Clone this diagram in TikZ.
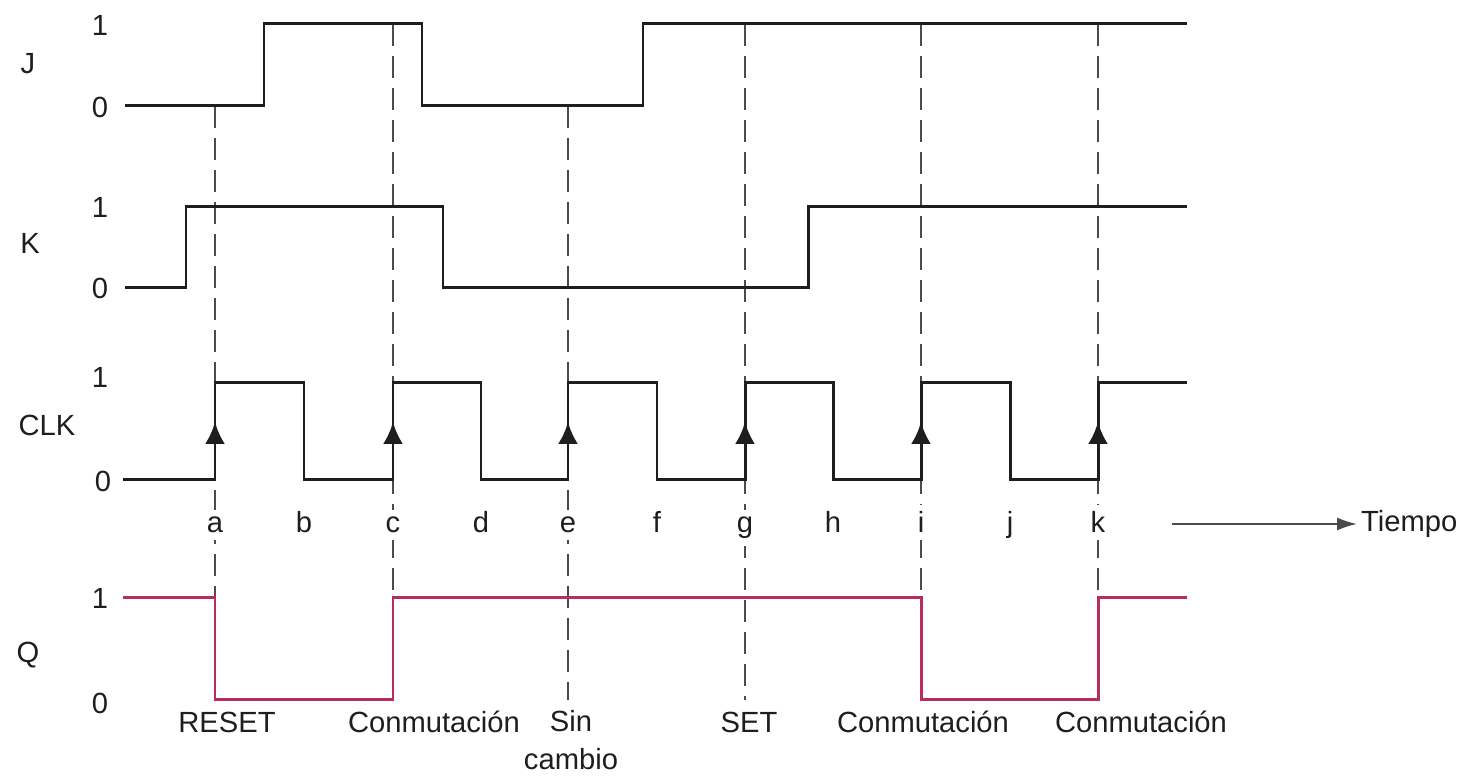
\documentclass[tikz,border=0pt]{standalone}
\usepackage{fontspec}
\setmainfont{Liberation Sans}
\usetikzlibrary{arrows.meta}
\definecolor{qred}{RGB}{185,45,90}
\definecolor{guide}{RGB}{75,75,75}
\definecolor{ink}{RGB}{30,30,30}
\begin{document}
\begin{tikzpicture}[x=0.1mm,y=-0.1mm,
  lbl/.style={font=\fontsize{8.3}{10}\selectfont, text=ink, inner sep=1pt},
  wave/.style={line width=0.85pt, draw=ink, line join=miter},
  qwave/.style={line width=0.85pt, draw=qred, line join=miter},
  guideline/.style={draw=guide, line width=0.5pt, dash pattern=on 2.2mm off 1.0mm},
  edgearrow/.style={draw=ink, line width=0.85pt, -{Latex[length=2.2mm,width=2.0mm]}},
  timearrow/.style={draw=ink!80, line width=0.5pt, -{Latex[length=2.0mm,width=1.3mm]}}]
\useasboundingbox (0,0) rectangle (1479,777);

% vertical guides at the active clock edges
\foreach \n/\x/\top in {a/215/106, c/393/24, e/568/106, g/745/24, i/921/24, k/1098/24} {
  \coordinate (g\n top) at (\x,\top);
  \coordinate (g\n bot) at (\x,700);
  \draw[guideline] (g\n top) -- (g\n bot);
}

% J input
\draw[wave] (125,106) -- (264,106) -- (264,24) -- (422,24) -- (422,106)
  -- (643,106) -- (643,24) -- (1187,24);
% K input
\draw[wave] (125,288) -- (186,288) -- (186,207) -- (443,207) -- (443,288)
  -- (808,288) -- (808,207) -- (1187,207);
% clock
\draw[wave] (123,480) -- (215,480) -- (215,383) -- (304,383) -- (304,480)
  -- (393,480) -- (393,383) -- (481,383) -- (481,480)
  -- (568,480) -- (568,383) -- (657,383) -- (657,480)
  -- (745,480) -- (745,383) -- (833,383) -- (833,480)
  -- (921,480) -- (921,383) -- (1010,383) -- (1010,480)
  -- (1098,480) -- (1098,383) -- (1187,383);
% rising-edge markers
\foreach \x in {215,393,568,745,921,1098}
  \draw[edgearrow] (\x,470) -- (\x,422);
% output Q
\draw[qwave] (123,598) -- (215,598) -- (215,700) -- (393,700) -- (393,598)
  -- (921,598) -- (921,700) -- (1098,700) -- (1098,598) -- (1187,598);

% signal names
\node[lbl] (nJ) at (28,64) {J};
\node[lbl] (nK) at (30,243) {K};
\node[lbl] (nCLK) at (47,425) {CLK};
\node[lbl] (nQ) at (28,655) {Q};

% logic levels
\node[lbl] (j1) at (100,25) {1};
\node[lbl] (j0) at (100,107) {0};
\node[lbl] (k1) at (100,207) {1};
\node[lbl] (k0) at (100,288) {0};
\node[lbl] (c1) at (100,377) {1};
\node[lbl] (c0) at (103,481) {0};
\node[lbl] (q1) at (100,598) {1};
\node[lbl] (q0) at (100,703) {0};

% time instants, all on one baseline
\foreach \l/\x in {a/215, b/304, c/393, d/481, e/568, f/657, g/745, h/833, i/921, j/1010, k/1098}
  \node[lbl, fill=white, inner sep=2pt, anchor=base] (t\l) at (\x,533) {\l};

% time axis
\coordinate (tstart) at (1172,524);
\node[lbl, anchor=west] (tiempo) at (1357,524) {Tiempo};
\draw[timearrow] (tstart) -- (tiempo.west);

% transition names
\node[lbl] (lreset) at (227,722) {RESET};
\node[lbl] (lconm1) at (434,722) {Conmutación};
\node[lbl, align=center] (lsin) at (571,740) {Sin\\[1pt]cambio};
\node[lbl] (lset) at (749,722) {SET};
\node[lbl] (lconm2) at (923,722) {Conmutación};
\node[lbl] (lconm3) at (1141,722) {Conmutación};
\end{tikzpicture}
\end{document}
